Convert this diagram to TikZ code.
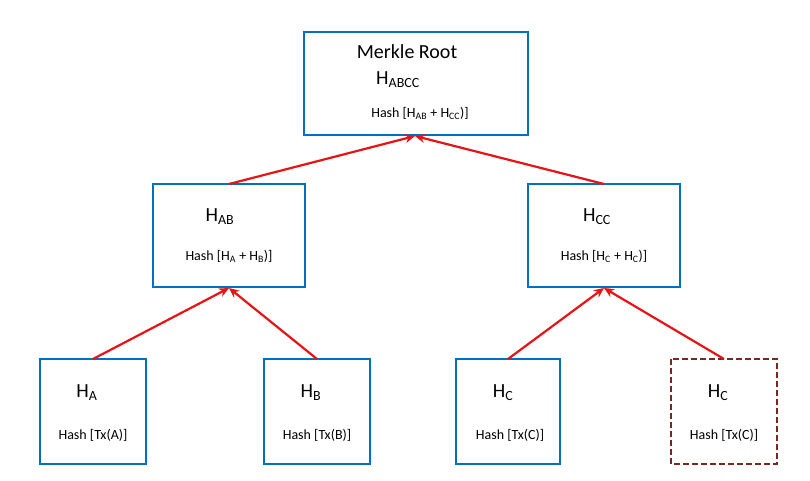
\documentclass[tikz,border=0pt]{standalone}
\usepackage{fontspec}
\setmainfont{Carlito}
\usetikzlibrary{arrows.meta}
\definecolor{bbl}{RGB}{0,112,192}
\definecolor{dred}{RGB}{120,40,30}
\definecolor{rr}{RGB}{230,20,20}
\newcommand{\sbs}[1]{\textsubscript{#1}}
\tikzset{box/.style={draw=bbl,line width=2.2pt},
 hbig/.style={font=\fontsize{20}{22}\selectfont,inner sep=0},
 hsm/.style={font=\fontsize{14}{16}\selectfont,inner sep=0},
 arr/.style={draw=rr,line width=2.2pt,-{Stealth[length=10pt,width=9pt]}}}
\begin{document}
\begin{tikzpicture}[x=1pt,y=-1pt]
\useasboundingbox (0,0) rectangle (810,481);
\draw[box] (304,32) rectangle (528,135);
\node[hbig] (r1) at (407,52) {Merkle Root};
\node[hbig] (r2) at (398,80) {H\sbs{ABCC}};
\node[hsm] (r3) at (420,113) {Hash [H\sbs{AB} + H\sbs{CC})]};
\coordinate (rb) at (415,135);
\draw[box] (153,184) rectangle (305,287);
\node[hbig] at (220,217) {H\sbs{AB}};
\node[hsm] at (229,256) {Hash [H\sbs{A} + H\sbs{B})]};
\draw[box] (528,184) rectangle (680,287);
\node[hbig] at (597,217) {H\sbs{CC}};
\node[hsm] at (604,256) {Hash [H\sbs{C} + H\sbs{C})]};
\draw[box] (40,359) rectangle (146,464);
\node[hbig] at (87,393) {H\sbs{A}};
\node[hsm] at (93,435) {Hash [Tx(A)]};
\draw[box] (264,359) rectangle (370,464);
\node[hbig] at (311,393) {H\sbs{B}};
\node[hsm] at (317,435) {Hash [Tx(B)]};
\draw[box] (456,359) rectangle (560,464);
\node[hbig] at (503,393) {H\sbs{C}};
\node[hsm] at (510,435) {Hash [Tx(C)]};
\draw[draw=dred,line width=2.2pt,dash pattern=on 6pt off 3pt] (671,359) rectangle (777,464);
\node[hbig] at (718,393) {H\sbs{C}};
\node[hsm] at (724,435) {Hash [Tx(C)]};
\draw[arr] (229,184) -- (415,136);
\draw[arr] (604,184) -- (415,136);
\draw[arr] (93,359) -- (229,288);
\draw[arr] (317,359) -- (229,288);
\draw[arr] (508,359) -- (604,288);
\draw[arr] (724,359) -- (604,288);
\end{tikzpicture}
\end{document}
